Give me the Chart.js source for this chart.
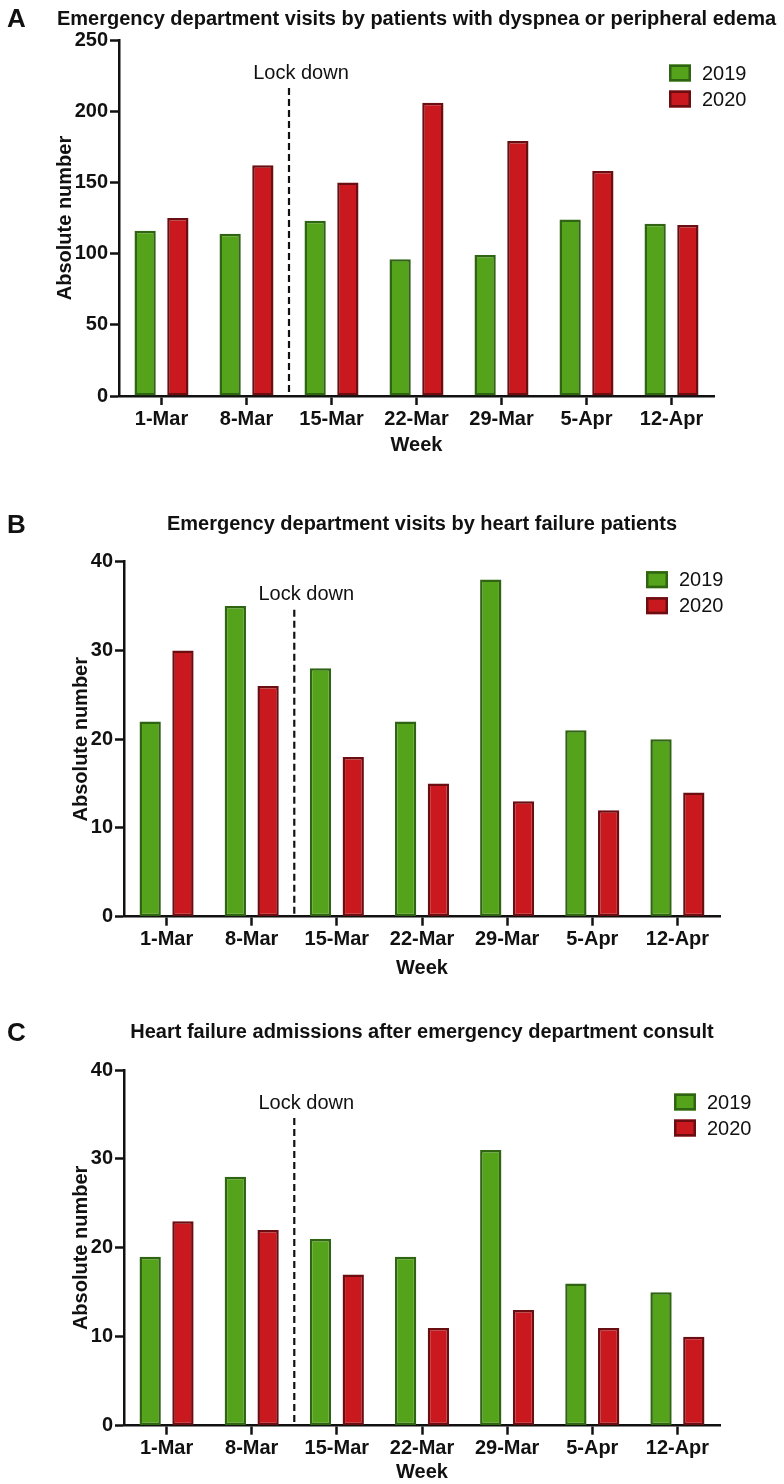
<!DOCTYPE html>
<html>
<head>
<meta charset="utf-8">
<script src="https://cdn.jsdelivr.net/npm/chart.js@4.4.1/dist/chart.umd.min.js"></script>
<style>
  body { margin: 0; background: #fff; }
  .panel { position: absolute; left: 0; width: 784px; }
</style>
</head>
<body>
<div class="panel" style="top:0"><canvas id="chartA" width="784" height="470"></canvas></div>
<div class="panel" style="top:480px"><canvas id="chartB" width="784" height="505"></canvas></div>
<div class="panel" style="top:985px"><canvas id="chartC" width="784" height="499"></canvas></div>
<script>
const weeks = ['1-Mar', '8-Mar', '15-Mar', '22-Mar', '29-Mar', '5-Apr', '12-Apr'];
const years = ['2019', '2020'];
const lockdownAfter = '8-Mar'; // dashed line sits between this week and the next

// A: ED visits, dyspnea or peripheral edema
const dyspnea2019 = [116, 114, 123, 96, 99, 124, 121];
const dyspnea2020 = [125, 162, 150, 206, 179, 158, 120];
// B: ED visits, heart failure
const hfVisits2019 = [22, 35, 28, 22, 38, 21, 20];
const hfVisits2020 = [30, 26, 18, 15, 13, 12, 14];
// C: HF admissions after ED consult
const hfAdmit2019 = [19, 28, 21, 19, 31, 16, 15];
const hfAdmit2020 = [23, 22, 17, 11, 13, 11, 10];

const yMaxA = 250, yStepA = 50;
const yMaxBC = 40, yStepBC = 10;

const FONT = '"Liberation Sans", Arial, Helvetica, sans-serif';
const INK = '#111';
const green = { fill: '#55a21b', line: '#2f6512' };
const red = { fill: '#c9191f', line: '#6a0e12' };

const panelDecor = {
  id: 'panelDecor',
  afterDatasetsDraw(chart, args, opts) {
    const { ctx, chartArea } = chart;
    const x = chart.scales.x;
    const i = weeks.indexOf(lockdownAfter);
    const lx = (x.getPixelForValue(i) + x.getPixelForValue(i + 1)) / 2;
    const top = chartArea.top + opts.lockTop;
    ctx.save();
    // lock down marker
    ctx.strokeStyle = INK;
    ctx.lineWidth = 2.2;
    ctx.setLineDash([7, 4]);
    ctx.beginPath();
    ctx.moveTo(lx, top);
    ctx.lineTo(lx, chartArea.bottom);
    ctx.stroke();
    ctx.setLineDash([]);
    ctx.font = '20px ' + FONT;
    ctx.fillStyle = INK;
    ctx.textAlign = 'center';
    ctx.textBaseline = 'middle';
    ctx.fillText('Lock down', lx + 12, top - 15);

    // legend
    chart.data.datasets.forEach((ds, k) => {
      const cy = chartArea.top + opts.legendTop + k * 26;
      ctx.fillStyle = ds.backgroundColor;
      ctx.fillRect(opts.legendX, cy - 8.5, 22, 17);
      ctx.strokeStyle = ds.borderColor;
      ctx.lineWidth = 2.5;
      ctx.strokeRect(opts.legendX + 1.25, cy - 7.25, 19.5, 14.5);
      ctx.fillStyle = INK;
      ctx.textAlign = 'left';
      ctx.font = '20px ' + FONT;
      ctx.fillText(ds.label, opts.legendX + 33, cy + 1);
    });

    // panel letter + title
    ctx.textAlign = 'left';
    ctx.font = 'bold 26px ' + FONT;
    ctx.fillText(opts.letter, 7, opts.letterY);
    ctx.textAlign = 'center';
    ctx.font = 'bold 20px ' + FONT;
    ctx.fillText(opts.title, (chartArea.left + chartArea.right) / 2, opts.titleY);
    ctx.restore();
  }
};

function makePanel(id, p) {
  return new Chart(document.getElementById(id), {
    type: 'bar',
    data: {
      labels: weeks,
      datasets: [
        { label: years[0], data: p.v2019, backgroundColor: green.fill, borderColor: green.line },
        { label: years[1], data: p.v2020, backgroundColor: red.fill, borderColor: red.line }
      ]
    },
    options: {
      responsive: false,
      animation: false,
      devicePixelRatio: 1,
      layout: { padding: { top: p.top, right: p.right, left: 0, bottom: 0 } },
      datasets: {
        bar: { borderWidth: 2.5, borderSkipped: false, categoryPercentage: 0.77, barPercentage: 0.65 }
      },
      scales: {
        x: {
          grid: { display: true, drawOnChartArea: false, offset: false, tickLength: 9, tickWidth: 2.5, color: INK },
          border: { display: true, width: 2.5, color: INK },
          ticks: { color: INK, font: { family: FONT, size: 20, weight: 'bold' }, autoSkip: false, maxRotation: 0, padding: 2 },
          title: { display: true, text: 'Week', color: INK, font: { family: FONT, size: 20, weight: 'bold' }, padding: { top: 0, bottom: p.weekPad } },
          afterFit(scale) { scale.height = p.xHeight; }
        },
        y: {
          min: 0,
          max: p.yMax,
          grid: { display: true, drawOnChartArea: false, tickLength: 9, tickWidth: 2.5, color: INK },
          border: { display: true, width: 2.5, color: INK },
          ticks: { stepSize: p.yStep, color: INK, font: { family: FONT, size: 20, weight: 'bold' }, padding: 2 },
          title: { display: true, text: 'Absolute number', color: INK, font: { family: FONT, size: 20, weight: 'bold' }, padding: { top: p.yTitlePad, bottom: 0 } },
          afterFit(scale) { scale.width = p.left; }
        }
      },
      plugins: {
        legend: { display: false },
        tooltip: { enabled: false },
        panelDecor: {
          letter: p.letter, letterY: p.letterY,
          title: p.title, titleY: p.titleY,
          lockTop: 48, legendX: p.legendX, legendTop: p.legendTop
        }
      }
    },
    plugins: [panelDecor]
  });
}

makePanel('chartA', {
  v2019: dyspnea2019, v2020: dyspnea2020, yMax: yMaxA, yStep: yStepA,
  letter: 'A', letterY: 20,
  title: 'Emergency department visits by patients with dyspnea or peripheral edema', titleY: 19,
  top: 40, right: 70, left: 119, xHeight: 74, weekPad: 13, yTitlePad: 53,
  legendX: 669, legendTop: 33
});

makePanel('chartB', {
  v2019: hfVisits2019, v2020: hfVisits2020, yMax: yMaxBC, yStep: yStepBC,
  letter: 'B', letterY: 46,
  title: 'Emergency department visits by heart failure patients', titleY: 44,
  top: 81.7, right: 64, left: 124, xHeight: 68.3, weekPad: 5, yTitlePad: 69,
  legendX: 646, legendTop: 18
});

makePanel('chartC', {
  v2019: hfAdmit2019, v2020: hfAdmit2020, yMax: yMaxBC, yStep: yStepBC,
  letter: 'C', letterY: 49,
  title: 'Heart failure admissions after emergency department consult', titleY: 47,
  top: 85, right: 64, left: 124, xHeight: 58.3, weekPad: 0, yTitlePad: 69,
  legendX: 674, legendTop: 32
});
</script>
</body>
</html>
